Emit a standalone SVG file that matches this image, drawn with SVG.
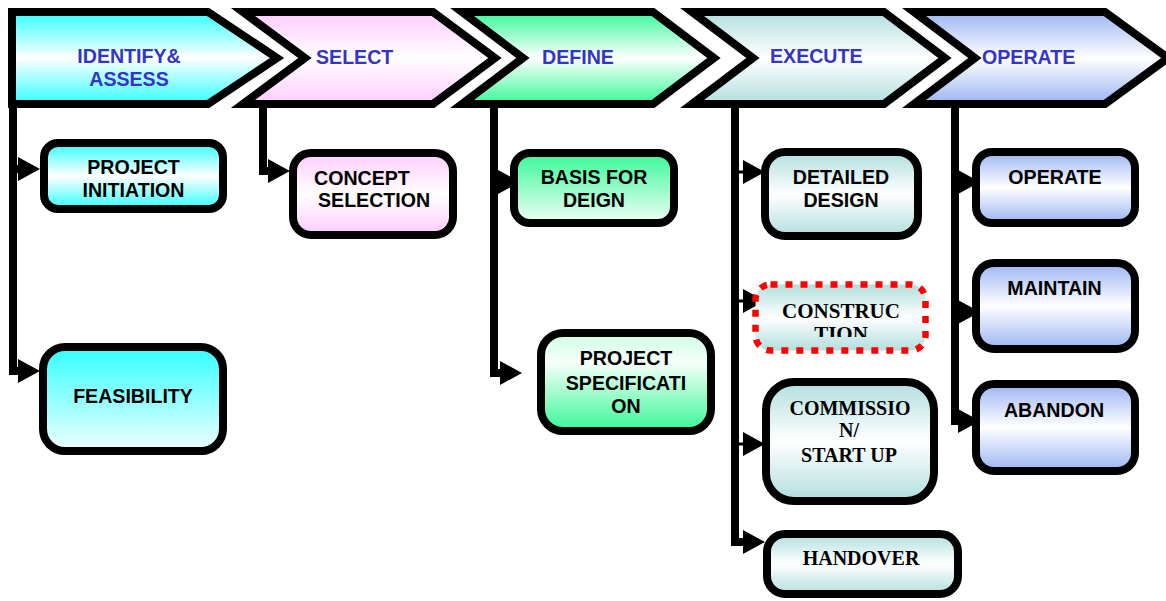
<svg xmlns="http://www.w3.org/2000/svg" width="1166" height="601" viewBox="0 0 1166 601">
<defs>
<linearGradient id="gCyan" x1="0" y1="0" x2="0" y2="1"><stop offset="0" stop-color="#33FFFF"/><stop offset="0.5" stop-color="#FFFFFF"/><stop offset="1" stop-color="#33FFFF"/></linearGradient>
<linearGradient id="gCyanDown" x1="0" y1="0" x2="0" y2="1"><stop offset="0" stop-color="#33FFFF"/><stop offset="1" stop-color="#F0FFFF"/></linearGradient>
<linearGradient id="gPink" x1="0" y1="0" x2="0" y2="1"><stop offset="0" stop-color="#FFCCFF"/><stop offset="0.5" stop-color="#FFFFFF"/><stop offset="1" stop-color="#FFCCFF"/></linearGradient>
<linearGradient id="gGreen" x1="0" y1="0" x2="0" y2="1"><stop offset="0" stop-color="#38F898"/><stop offset="0.5" stop-color="#FFFFFF"/><stop offset="1" stop-color="#38F898"/></linearGradient>
<linearGradient id="gGreenDown" x1="0" y1="0" x2="0" y2="1"><stop offset="0" stop-color="#38F898"/><stop offset="1" stop-color="#F2FFF7"/></linearGradient>
<linearGradient id="gGreenUp" x1="0" y1="0" x2="0" y2="1"><stop offset="0" stop-color="#CCFFE4"/><stop offset="0.3" stop-color="#F6FFF9"/><stop offset="1" stop-color="#38F898"/></linearGradient>
<linearGradient id="gTeal" x1="0" y1="0" x2="0" y2="1"><stop offset="0" stop-color="#B2DEDE"/><stop offset="0.5" stop-color="#FFFFFF"/><stop offset="1" stop-color="#B2DEDE"/></linearGradient>
<linearGradient id="gBlue" x1="0" y1="0" x2="0" y2="1"><stop offset="0" stop-color="#9BB4F2"/><stop offset="0.5" stop-color="#FFFFFF"/><stop offset="1" stop-color="#9BB4F2"/></linearGradient>
<marker id="ah" markerUnits="userSpaceOnUse" markerWidth="22" markerHeight="24" viewBox="0 0 22 24" refX="0" refY="12" orient="auto"><path d="M0 0 L22 12 L0 24 Z" fill="#000"/></marker>
<clipPath id="clipCons"><rect x="740" y="280" width="200" height="57"/></clipPath>
<style>
.chev{stroke:#000;stroke-width:8;stroke-linejoin:miter}
.box{stroke:#000;stroke-width:8}
.conn{fill:none;stroke:#000;stroke-width:8;stroke-linejoin:miter;marker-end:url(#ah)}
.thin{stroke-width:3}
.ph{font-family:"Liberation Sans",Arial,sans-serif;font-weight:bold;font-size:19.6px;fill:#3434C8}
.t{font-family:"Liberation Sans",Arial,sans-serif;font-weight:bold;font-size:19.6px;fill:#000}
.ts{font-family:"Liberation Serif","Times New Roman",serif;font-weight:bold;font-size:20px;fill:#000}
.m{text-anchor:middle}
</style>
</defs>
<rect width="1166" height="601" fill="#fff"/>
<g id="connectors">
<path class="conn" d="M13 104 V169 H18"/>
<path class="conn" d="M13 104 V371 H18"/>
<path class="conn" d="M263 104 V171 H268"/>
<path class="conn" d="M494 104 V182 H498"/>
<path class="conn" d="M494 104 V373 H500"/>
<path class="conn" d="M735 104 V542 H743"/>
<path class="conn thin" d="M737 172 H743"/>
<path class="conn thin" d="M737 301 H743"/>
<path class="conn thin" d="M737 444 H743"/>
<path class="conn" d="M955 104 V182 H958"/>
<path class="conn" d="M955 104 V312 H958"/>
<path class="conn" d="M955 104 V421 H958"/>
</g>
<g id="phase-identify">
<path class="chev" fill="url(#gCyan)" d="M12 12 H208 L277 58 L208 104 H12 Z"/>
<text class="ph m" x="129" y="63">IDENTIFY&amp;</text>
<text class="ph m" x="129" y="86">ASSESS</text>
</g>
<g id="phase-select">
<path class="chev" fill="url(#gPink)" d="M243 12 H433 L495 58 L433 104 H243 L305 58 Z"/>
<text class="ph" x="316" y="64">SELECT</text>
</g>
<g id="phase-define">
<path class="chev" fill="url(#gGreen)" d="M462 12 H653 L714 58 L653 104 H462 L523 58 Z"/>
<text class="ph" x="542" y="64">DEFINE</text>
</g>
<g id="phase-execute">
<path class="chev" fill="url(#gTeal)" d="M692 12 H884 L945 58 L884 104 H692 L753 58 Z"/>
<text class="ph" x="770" y="63">EXECUTE</text>
</g>
<g id="phase-operate">
<path class="chev" fill="url(#gBlue)" d="M914 12 H1105 L1168 58 L1105 104 H914 L975 58 Z"/>
<text class="ph" x="982" y="64">OPERATE</text>
</g>
<g id="project-initiation">
<rect class="box" fill="url(#gCyan)" x="44" y="143" width="179" height="66" rx="14"/>
<text class="t m" x="133.5" y="174">PROJECT</text>
<text class="t m" x="133.5" y="197">INITIATION</text>
</g>
<g id="feasibility">
<rect class="box" fill="url(#gCyanDown)" x="43" y="347" width="180" height="104" rx="22"/>
<text class="t m" x="133" y="403">FEASIBILITY</text>
</g>
<g id="concept-selection">
<rect class="box" fill="url(#gPink)" x="293" y="153" width="160" height="82" rx="18"/>
<text class="t" x="314" y="185">CONCEPT</text>
<text class="t" x="318" y="207">SELECTION</text>
</g>
<g id="basis-for-design">
<rect class="box" fill="url(#gGreenDown)" x="514" y="153" width="160" height="70" rx="16"/>
<text class="t m" x="594" y="184">BASIS FOR</text>
<text class="t m" x="594" y="207">DEIGN</text>
</g>
<g id="project-specification">
<rect class="box" fill="url(#gGreenUp)" x="541" y="333" width="170" height="98" rx="22"/>
<text class="t m" x="626" y="365">PROJECT</text>
<text class="t m" x="626" y="390">SPECIFICATI</text>
<text class="t m" x="626" y="413">ON</text>
</g>
<g id="detailed-design">
<rect class="box" fill="url(#gTeal)" x="765" y="152" width="153" height="84" rx="20"/>
<text class="t m" x="841" y="184">DETAILED</text>
<text class="t m" x="841" y="207">DESIGN</text>
</g>
<g id="construction">
<rect fill="url(#gTeal)" stroke="#FF0000" stroke-width="6.5" stroke-dasharray="7 8" x="755.5" y="284.5" width="170" height="66" rx="15"/>
<g clip-path="url(#clipCons)">
<text class="ts m" style="font-size:21px" x="841" y="318">CONSTRUC</text>
<text class="ts m" style="font-size:21px" x="841" y="341">TION</text>
</g>
</g>
<g id="commission-startup">
<rect class="box" fill="url(#gTeal)" x="766" y="382" width="168" height="119" rx="28"/>
<text class="ts m" x="850" y="415">COMMISSIO</text>
<text class="ts m" x="849" y="437">N/</text>
<text class="ts m" x="849" y="462">START UP</text>
</g>
<g id="handover">
<rect class="box" fill="url(#gTeal)" x="767" y="534" width="191" height="60" rx="18"/>
<text class="ts m" x="861" y="565">HANDOVER</text>
</g>
<g id="operate-box">
<rect class="box" fill="url(#gBlue)" x="976" y="152" width="159" height="71" rx="16"/>
<text class="t m" x="1055" y="184">OPERATE</text>
</g>
<g id="maintain">
<rect class="box" fill="url(#gBlue)" x="976" y="263" width="159" height="86" rx="18"/>
<text class="t m" x="1054.5" y="295">MAINTAIN</text>
</g>
<g id="abandon">
<rect class="box" fill="url(#gBlue)" x="976" y="384" width="159" height="87" rx="18"/>
<text class="t m" x="1054" y="417">ABANDON</text>
</g>
</svg>
